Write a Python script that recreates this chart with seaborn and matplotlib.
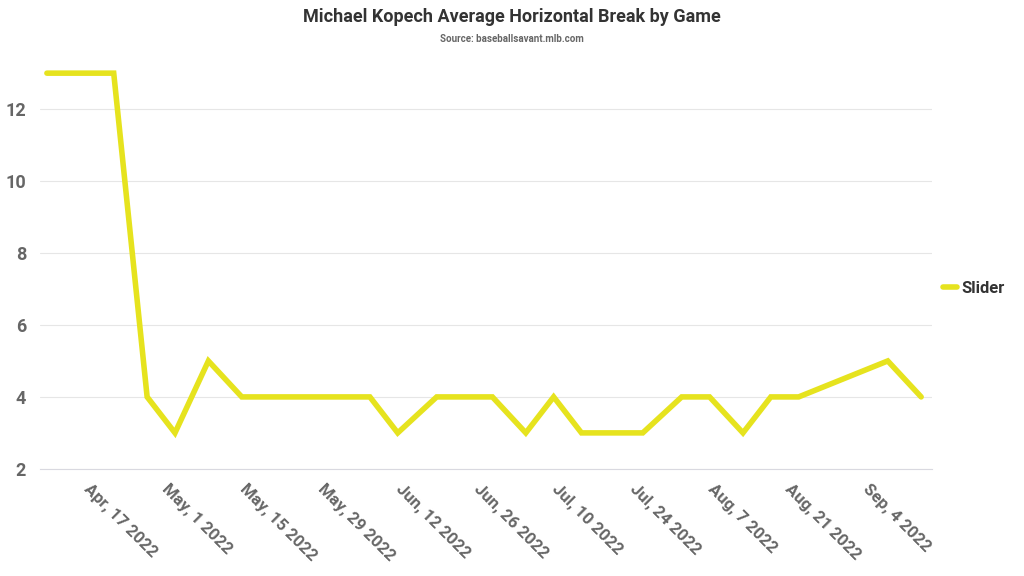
import matplotlib.pyplot as plt
import pandas as pd
import seaborn as sns

# game dates and average horizontal break (inches) for the slider
game_dates = [
    "2022-04-09", "2022-04-21", "2022-04-27", "2022-05-02", "2022-05-08",
    "2022-05-14", "2022-05-20", "2022-05-26", "2022-06-01", "2022-06-06",
    "2022-06-11", "2022-06-18", "2022-06-23", "2022-06-28", "2022-07-04",
    "2022-07-09", "2022-07-14", "2022-07-19", "2022-07-25", "2022-08-01",
    "2022-08-06", "2022-08-12", "2022-08-17", "2022-08-22", "2022-09-07",
    "2022-09-13",
]
horizontal_break = [
    13, 13, 4, 3, 5,
    4, 4, 4, 4, 4,
    3, 4, 4, 4, 3,
    4, 3, 3, 3, 4,
    4, 3, 4, 4, 5,
    4,
]
pitch_type = "Slider"
tick_dates = pd.date_range("2022-04-17", "2022-09-04", freq="14D")

df = pd.DataFrame(
    {
        "date": pd.to_datetime(game_dates),
        "break": horizontal_break,
        "pitch": pitch_type,
    }
)

sns.set_style("white")
plt.rcParams["font.family"] = ["Roboto", "DejaVu Sans"]

grey = "#666666"
yellow = "#e6e31e"

fig = plt.figure(figsize=(10.24, 5.76), dpi=100)
ax = fig.add_axes([0.039, 0.186, 0.871, 0.687])

sns.lineplot(
    data=df, x="date", y="break", hue="pitch", palette=[yellow],
    linewidth=4, ax=ax, clip_on=False, solid_joinstyle="miter",
)

ax.set_xlim(pd.Timestamp("2022-04-07 18:00"), pd.Timestamp("2022-09-14 22:00"))
ax.set_ylim(2, 13)
ax.set_yticks([2, 4, 6, 8, 10, 12])
ax.set_xticks(tick_dates)
ax.set_xticklabels([d.strftime("%b, ") + str(d.day) + " 2022" for d in tick_dates])
ax.set(xlabel="", ylabel="")

ax.grid(axis="y", color="#e6e6e6", linewidth=0.8)
ax.grid(axis="x", visible=False)
ax.tick_params(axis="y", length=0, labelsize=13, labelcolor=grey, pad=10)
ax.tick_params(axis="x", length=5, color="#d9d9e0", labelsize=12, labelcolor=grey, pad=4)
for lbl in ax.get_yticklabels():
    lbl.set_fontweight("bold")
for lbl in ax.get_xticklabels():
    lbl.set_fontweight("bold")
    lbl.set_rotation(-45)
    lbl.set_ha("left")
    lbl.set_rotation_mode("anchor")

sns.despine(ax=ax, top=True, right=True, left=True, bottom=False)
ax.spines["bottom"].set_color("#d9d9e0")

ax.legend(
    loc="center left", bbox_to_anchor=(1.012, 0.457), frameon=False,
    borderaxespad=0, borderpad=0,
    handlelength=0.85, handletextpad=0.25,
    prop={"weight": "bold", "size": 12},
    labelcolor="#333333",
)

fig.text(0.5, 0.97, "Michael Kopech Average Horizontal Break by Game",
         ha="center", va="center", fontsize=13, fontweight="bold", color="#333333")
fig.text(0.5, 0.932, "Source: baseballsavant.mlb.com",
         ha="center", va="center", fontsize=7, fontweight="bold", color=grey)

plt.savefig("out.png", dpi=100)
